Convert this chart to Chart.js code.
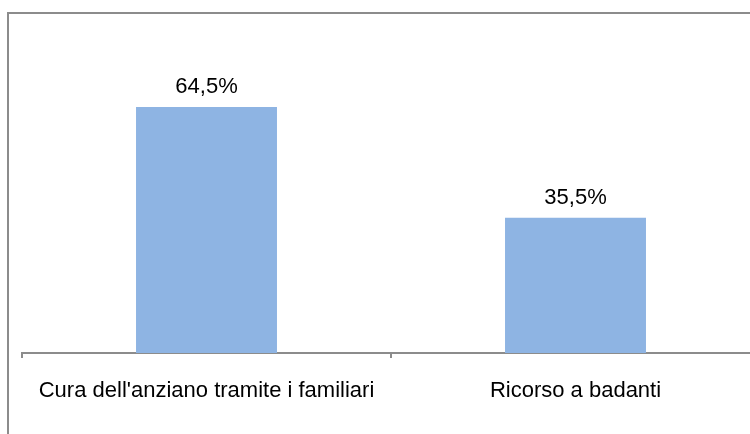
<!DOCTYPE html>
<html>
<head>
<meta charset="utf-8">
<script src="https://cdn.jsdelivr.net/npm/chart.js@4"></script>
<style>
  html, body { margin: 0; padding: 0; background: #fff; overflow: hidden; width: 750px; height: 434px; }
  #frame { position: absolute; left: 7px; top: 12px; width: 800px; height: 500px; border: 2px solid #8c8c8c; }
  #wrap { position: absolute; left: 0; top: 0; width: 780px; height: 434px; }
</style>
</head>
<body>
<div id="frame"></div>
<div id="wrap"><canvas id="chart"></canvas></div>
<script>
const categories = ["Cura dell'anziano tramite i familiari", 'Ricorso a badanti'];
const values = [64.5, 35.5];
const valueLabels = ['64,5%', '35,5%'];

// draws the percentage above each bar
const barLabels = {
    id: 'barLabels',
    afterDatasetsDraw(chart) {
        const ctx = chart.ctx;
        const meta = chart.getDatasetMeta(0);
        ctx.save();
        ctx.font = '22px "Liberation Sans", Arial, sans-serif';
        ctx.fillStyle = '#000';
        ctx.textAlign = 'center';
        ctx.textBaseline = 'alphabetic';
        meta.data.forEach((bar, i) => {
            ctx.fillText(valueLabels[i], bar.x, bar.y - 14);
        });
        ctx.restore();
    }
};

const ctx = document.getElementById('chart').getContext('2d');
const chart = new Chart(ctx, {
    type: 'bar',
    data: {
        labels: categories,
        datasets: [{
            data: values,
            backgroundColor: '#8EB4E3',
            borderWidth: 0,
            categoryPercentage: 1,
            barPercentage: 0.382
        }]
    },
    options: {
        responsive: true,
        maintainAspectRatio: false,
        animation: false,
        layout: { padding: { left: 22, right: 20, top: 48, bottom: 0 } },
        plugins: {
            legend: { display: false },
            tooltip: { enabled: false }
        },
        scales: {
            y: { display: false, min: 0, max: 80 },
            x: {
                afterFit: function (scale) { scale.height = 81; },
                border: { display: true, color: '#8c8c8c', width: 2 },
                grid: {
                    offset: true,
                    drawOnChartArea: false,
                    drawTicks: true,
                    tickLength: 5,
                    color: '#8c8c8c',
                    lineWidth: 2
                },
                ticks: {
                    color: '#000',
                    padding: 20,
                    maxRotation: 0,
                    font: { family: '"Liberation Sans", Arial, sans-serif', size: 22 }
                }
            }
        }
    },
    plugins: [barLabels]
});
</script>
</body>
</html>
